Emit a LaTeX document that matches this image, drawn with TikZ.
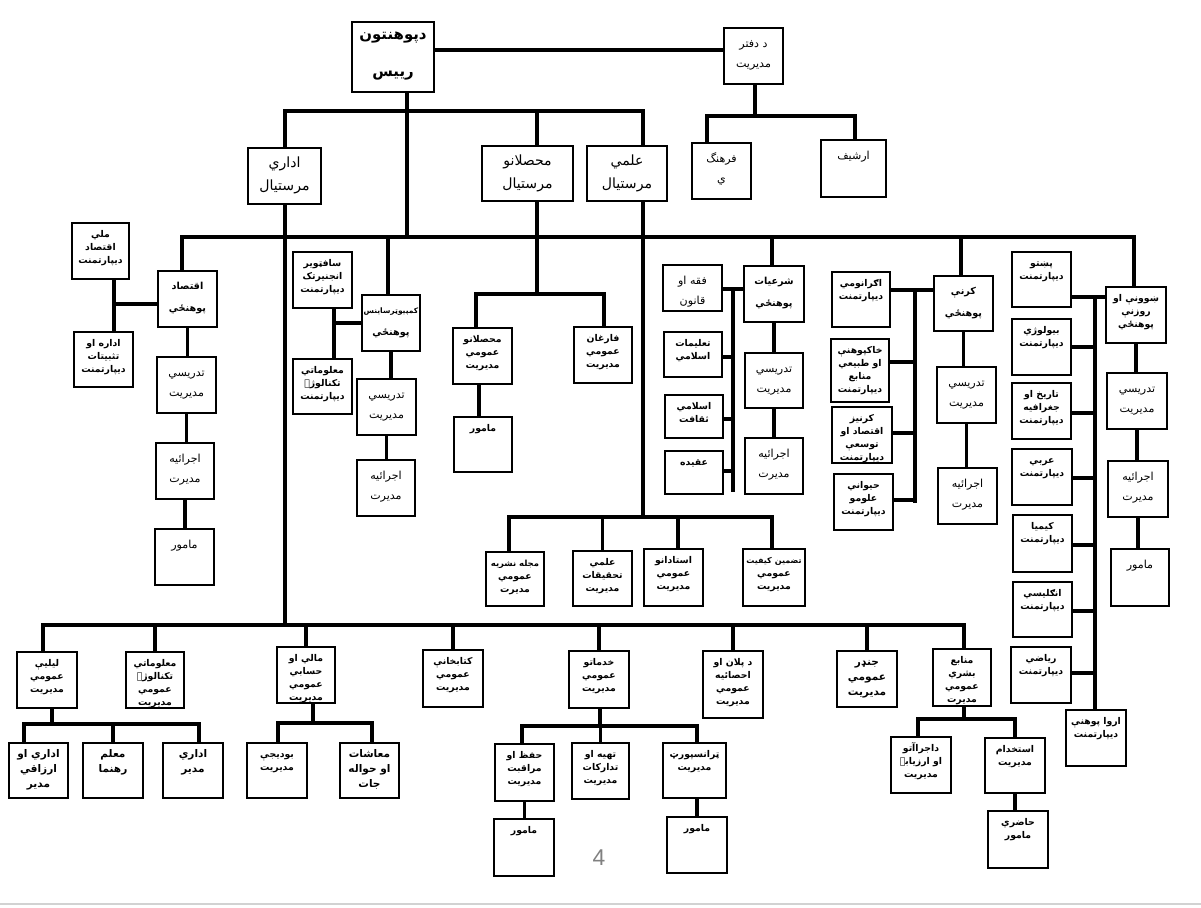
\documentclass[tikz,border=0pt]{standalone}
\usepackage{fontspec}
\TeXXeTstate=1
\newfontfamily\arabicfont[Script=Arabic]{DejaVu Sans}
\newfontfamily\numfont{Liberation Sans}
\newcommand\RL[1]{\strut\beginR #1\endR}
\newcommand\B[7][sbt]{%
  \pgfmathsetmacro\bw{(#5-#3)*0.02}%
  \pgfmathsetmacro\bh{(#6-#4)*0.02}%
  \node[box,minimum width=\bw cm,minimum height=\bh cm] (#2) at ({(#3+#5)/2},{(#4+#6)/2}) {};%
  \node[#1] (#2-t) at (#2.north) {#7};}
\begin{document}
\begin{tikzpicture}[x=0.02cm,y=-0.02cm,
  box/.style={draw,line width=0.7pt,fill=white,inner sep=0pt},
  txt/.style={align=center,inner sep=0pt,anchor=north},
  sbt/.style={txt,yshift=-3.1pt,font=\arabicfont\bfseries\fontsize{5.3}{7.4}\selectfont},
  sbw/.style={txt,yshift=-1.8pt,font=\arabicfont\bfseries\fontsize{5.5}{12.5}\selectfont},
  sbl/.style={txt,yshift=-2.6pt,font=\arabicfont\bfseries\fontsize{6}{8.5}\selectfont},
  srt/.style={txt,yshift=-3.4pt,font=\arabicfont\fontsize{6.3}{11.3}\selectfont},
  smt/.style={txt,yshift=-2.4pt,font=\arabicfont\fontsize{8}{13}\selectfont},
  stb/.style={txt,yshift=4.7pt,font=\arabicfont\bfseries\fontsize{8.5}{21}\selectfont},
  conn/.style={line width=2.2pt}]
\useasboundingbox (0,0) rectangle (1201,908);
\draw[gray!35,line width=1pt] (0,904) -- (1201,904);
% ---------- top ----------
\B[stb]{rector}{352}{22}{434}{92}{\RL{دپوهنتون}\\\RL{رييس}}
\B[srt]{office}{724}{28}{783}{84}{\RL{د دفتر}\\\RL{مديريت}}
\B[srt]{farhangi}{692}{143}{751}{199}{\RL{فرهنگ}\\\RL{ي}}
\B[srt]{archive}{821}{140}{886}{197}{\RL{ارشيف}}
\B[smt]{edari}{248}{148}{321}{204}{\RL{اداري}\\\RL{مرستيال}}
\B[smt]{mohasilan}{482}{146}{573}{201}{\RL{محصلانو}\\\RL{مرستيال}}
\B[smt]{elmi}{587}{146}{667}{201}{\RL{علمي}\\\RL{مرستيال}}
% ---------- economics ----------
\B{melli}{72}{223}{129}{279}{\RL{ملي}\\\RL{اقتصاد}\\\RL{ديپارتمنت}}
\B[sbw]{eqfac}{158}{271}{217}{327}{\RL{اقتصاد}\\\RL{پوهنځي}}
\B{edara}{74}{332}{133}{387}{\RL{اداره او}\\\RL{تثبيتات}\\\RL{ديپارتمنت}}
\B[srt]{eqtad}{157}{357}{216}{413}{\RL{تدريسي}\\\RL{مديريت}}
\B[srt]{eqejr}{156}{443}{214}{499}{\RL{اجرائيه}\\\RL{مديرت}}
\B[srt]{eqmam}{155}{529}{214}{585}{\RL{مامور}}
% ---------- computer science ----------
\B{software}{293}{252}{352}{308}{\RL{سافټوير}\\\RL{انجنيرتک}\\\RL{ديپارتمنت}}
\B[sbw]{compfac}{362}{295}{420}{351}{\RL{\fontsize{4.3}{5}\selectfont کمپيوټرساينس}\\\RL{پوهنځي}}
\B{itdept}{293}{359}{352}{414}{\RL{معلوماتي}\\\RL{تکنالوژۍ}\\\RL{ديپارتمنت}}
\B[srt]{comptad}{357}{379}{416}{435}{\RL{تدريسي}\\\RL{مديريت}}
\B[srt]{compejr}{357}{460}{415}{516}{\RL{اجرائيه}\\\RL{مديرت}}
% ---------- students ----------
\B{mohgen}{453}{328}{512}{384}{\RL{محصلانو}\\\RL{عمومي}\\\RL{مديريت}}
\B{faregh}{574}{327}{632}{383}{\RL{فارغان}\\\RL{عمومي}\\\RL{مديريت}}
\B{mohmam}{454}{417}{512}{472}{\RL{مامور}}
% ---------- academic ----------
\B{majalla}{486}{552}{544}{606}{\RL{\fontsize{4.8}{7.4}\selectfont مجله نشريه}\\\RL{عمومي}\\\RL{مديرت}}
\B{tahqiq}{573}{551}{632}{606}{\RL{علمي}\\\RL{تحقيقات}\\\RL{مديريت}}
\B{ostadan}{644}{549}{703}{606}{\RL{استادانو}\\\RL{عمومي}\\\RL{مديريت}}
\B{tazmin}{743}{549}{805}{606}{\RL{\fontsize{4.6}{7.4}\selectfont تضمين کيفيت}\\\RL{عمومي}\\\RL{مديريت}}
% ---------- sharia ----------
\B[srt]{fiqh}{663}{265}{722}{311}{\RL{فقه او}\\\RL{قانون}}
\B{taalimat}{664}{332}{722}{377}{\RL{تعليمات}\\\RL{اسلامي}}
\B{saqafat}{665}{395}{723}{438}{\RL{اسلامي}\\\RL{ثقافت}}
\B{aqida}{665}{451}{723}{494}{\RL{عقيده}}
\B[sbw]{sharfac}{744}{266}{804}{322}{\RL{شرعيات}\\\RL{پوهنځي}}
\B[srt]{shtad}{745}{353}{803}{408}{\RL{تدريسي}\\\RL{مديريت}}
\B[srt]{shejr}{745}{438}{803}{494}{\RL{اجرائيه}\\\RL{مديرت}}
% ---------- agriculture ----------
\B{agro}{832}{272}{890}{327}{\RL{اګرانومي}\\\RL{ديپارتمنت}}
\B{khak}{831}{339}{889}{402}{\RL{خاکپوهنې}\\\RL{او طبيعي}\\\RL{منابع}\\\RL{ديپارتمنت}}
\B{kareqt}{832}{407}{892}{463}{\RL{کرنيز}\\\RL{اقتصاد او}\\\RL{توسعې}\\\RL{ديپارتمنت}}
\B{haiwani}{834}{474}{893}{530}{\RL{حيواني}\\\RL{علومو}\\\RL{ديپارتمنت}}
\B[sbw]{karfac}{934}{276}{993}{331}{\RL{کرنې}\\\RL{پوهنځي}}
\B[srt]{kartad}{937}{367}{996}{423}{\RL{تدريسي}\\\RL{مديريت}}
\B[srt]{karejr}{938}{468}{997}{524}{\RL{اجرائيه}\\\RL{مديرت}}
% ---------- education ----------
\B{pashto}{1012}{252}{1071}{307}{\RL{پښتو}\\\RL{ديپارتمنت}}
\B{biology}{1012}{319}{1071}{375}{\RL{بيولوژي}\\\RL{ديپارتمنت}}
\B{history}{1012}{383}{1071}{439}{\RL{تاريخ او}\\\RL{جغرافيه}\\\RL{ديپارتمنت}}
\B{arabi}{1012}{449}{1072}{505}{\RL{عربي}\\\RL{ديپارتمنت}}
\B{kimia}{1013}{515}{1072}{572}{\RL{کيميا}\\\RL{ديپارتمنت}}
\B{english}{1013}{582}{1072}{637}{\RL{انګليسي}\\\RL{ديپارتمنت}}
\B{math}{1011}{647}{1071}{703}{\RL{رياضي}\\\RL{ديپارتمنت}}
\B{arwa}{1066}{710}{1126}{766}{\RL{اروا پوهنې}\\\RL{ديپارتمنت}}
\B[sbt]{joyfac}{1106}{287}{1166}{343}{\RL{ښوونې او}\\\RL{روزنې}\\\RL{پوهنځي}}
\B[srt]{joytad}{1107}{373}{1167}{429}{\RL{تدريسي}\\\RL{مديريت}}
\B[srt]{joyejr}{1108}{461}{1168}{517}{\RL{اجرائيه}\\\RL{مديرت}}
\B[srt]{joymam}{1111}{549}{1169}{606}{\RL{مامور}}
% ---------- bottom row ----------
\B{laili}{17}{652}{77}{708}{\RL{ليليې}\\\RL{عمومي}\\\RL{مديريت}}
\B{itgen}{126}{652}{184}{708}{\RL{معلوماتي}\\\RL{تکنالوژۍ}\\\RL{عمومي}\\\RL{مديريت}}
\B{mali}{277}{647}{335}{703}{\RL{مالي او}\\\RL{حسابي}\\\RL{عمومي}\\\RL{مديريت}}
\B{ketab}{423}{650}{483}{707}{\RL{کتابخانې}\\\RL{عمومي}\\\RL{مديريت}}
\B{khedmat}{569}{651}{629}{708}{\RL{خدماتو}\\\RL{عمومي}\\\RL{مديريت}}
\B{plan}{703}{651}{763}{718}{\RL{د پلان او}\\\RL{احصائيه}\\\RL{عمومي}\\\RL{مديريت}}
\B[sbl]{jender}{837}{651}{897}{707}{\RL{جنډر}\\\RL{عمومي}\\\RL{مديريت}}
\B{manabe}{933}{649}{991}{706}{\RL{منابع}\\\RL{بشري}\\\RL{عمومي}\\\RL{مديرت}}
\B[sbl]{arzaqi}{9}{743}{68}{798}{\RL{اداري او}\\\RL{ارزاقي}\\\RL{مدير}}
\B[sbl]{moalem}{83}{743}{143}{798}{\RL{معلم}\\\RL{رهنما}}
\B[sbl]{edmodir}{163}{743}{223}{798}{\RL{اداري}\\\RL{مدير}}
\B{budget}{247}{743}{307}{798}{\RL{بوديجې}\\\RL{مديريت}}
\B[sbl]{maashat}{340}{743}{399}{798}{\RL{معاشات}\\\RL{او حواله}\\\RL{جات}}
\B{hefz}{495}{744}{554}{801}{\RL{حفظ او}\\\RL{مراقبت}\\\RL{مديريت}}
\B{tahiya}{572}{743}{629}{799}{\RL{تهيه او}\\\RL{تدارکات}\\\RL{مديريت}}
\B{transport}{663}{743}{726}{798}{\RL{ټرانسپورټ}\\\RL{مديريت}}
\B{hefzmam}{494}{819}{554}{876}{\RL{مامور}}
\B{transmam}{667}{817}{727}{873}{\RL{مامور}}
\B{ejraat}{891}{737}{951}{793}{\RL{داجراآتو}\\\RL{او ارزيابۍ}\\\RL{مديريت}}
\B{estekhdam}{985}{738}{1045}{793}{\RL{استخدام}\\\RL{مديريت}}
\B{hazeri}{988}{811}{1048}{868}{\RL{حاضري}\\\RL{مامور}}
\node[font=\numfont\fontsize{13}{15}\selectfont,text=gray] (pagenum) at (599,858) {4};
% ---------- coordinates ----------
\coordinate (o0) at (437,50);
\coordinate (o1) at (755,116);
\coordinate (o2) at (707,116);
\coordinate (o3) at (855,116);
\coordinate (r0) at (407,237);
\coordinate (a0) at (285,111);
\coordinate (a1) at (643,111);
\coordinate (a2) at (537,111);
\coordinate (mL) at (182,237);
\coordinate (j0) at (1134,237);
\coordinate (p0) at (388,237);
\coordinate (s0) at (772,237);
\coordinate (c0) at (961,237);
\coordinate (bL) at (43,625);
\coordinate (bR) at (964,625);
\coordinate (q1) at (114,304);
\coordinate (p1) at (334,323);
\coordinate (h0) at (537,294);
\coordinate (h1) at (476,294);
\coordinate (h2) at (604,294);
\coordinate (h3) at (479,400);
\coordinate (e0) at (643,517);
\coordinate (e1) at (509,517);
\coordinate (e2) at (772,517);
\coordinate (e3) at (678,517);
\coordinate (s1) at (733,289);
\coordinate (s2) at (733,492);
\coordinate (s3) at (733,357);
\coordinate (s4) at (733,419);
\coordinate (s5) at (733,471);
\coordinate (c1) at (915,290);
\coordinate (c2) at (915,503);
\coordinate (c3) at (915,362);
\coordinate (c4) at (915,433);
\coordinate (c5) at (915,500);
\coordinate (j1) at (1095,297);
\coordinate (j2) at (1095,347);
\coordinate (j3) at (1095,413);
\coordinate (j4) at (1095,478);
\coordinate (j5) at (1095,545);
\coordinate (j6) at (1095,611);
\coordinate (j7) at (1095,673);
\coordinate (l0) at (52,724);
\coordinate (l1) at (24,724);
\coordinate (l2) at (199,724);
\coordinate (m0) at (313,723);
\coordinate (m1) at (278,723);
\coordinate (m2) at (372,723);
\coordinate (k0) at (600,726);
\coordinate (k1) at (522,726);
\coordinate (k2) at (697,726);
\coordinate (n0) at (964,719);
\coordinate (n1) at (918,719);
\coordinate (n2) at (1015,719);
% ---------- connectors ----------
\begin{scope}[conn]
\draw (rector.east |- o0) -- (office.west |- o0);
\draw (office.south -| o1) -- (o1);
\draw (farhangi.north -| o2) -- (o2) -- (o3) -- (archive.north -| o3);
\draw (rector.south -| r0) -- (r0);
\draw (edari.north -| a0) -- (a0) -- (a1) -- (elmi.north -| a1);
\draw (a2) -- (mohasilan.north -| a2);
\draw (edari.south -| a0) -- (a0 |- bL);
\draw (eqfac.north -| mL) -- (mL) -- (j0) -- (joyfac.north -| j0);
\draw (p0) -- (compfac.north -| p0);
\draw (s0) -- (sharfac.north -| s0);
\draw (c0) -- (karfac.north -| c0);
% economics
\draw (melli.south -| q1) -- (edara.north -| q1);
\draw (q1) -- (eqfac.west |- q1);
\draw (eqfac.south) -- (eqfac.south |- eqtad.north);
\draw (eqtad.south) -- (eqtad.south |- eqejr.north);
\draw (eqejr.south) -- (eqejr.south |- eqmam.north);
% computer
\draw (software.south -| p1) -- (itdept.north -| p1);
\draw (p1) -- (compfac.west |- p1);
\draw (compfac.south) -- (compfac.south |- comptad.north);
\draw (comptad.south) -- (comptad.south |- compejr.north);
% students
\draw (mohasilan.south -| h0) -- (h0);
\draw (mohgen.north -| h1) -- (h1) -- (h2) -- (faregh.north -| h2);
\draw (mohgen.south -| h3) -- (mohmam.north -| h3);
% academic
\draw (elmi.south -| e0) -- (e0);
\draw (majalla.north -| e1) -- (e1) -- (e2) -- (tazmin.north -| e2);
\draw (tahqiq.north |- e0) -- (tahqiq.north);
\draw (e3) -- (ostadan.north -| e3);
% sharia
\draw (fiqh.east |- s1) -- (sharfac.west |- s1);
\draw (s1) -- (s2);
\draw (taalimat.east |- s3) -- (s3);
\draw (saqafat.east |- s4) -- (s4);
\draw (aqida.east |- s5) -- (s5);
\draw (sharfac.south) -- (sharfac.south |- shtad.north);
\draw (shtad.south) -- (shtad.south |- shejr.north);
% agriculture
\draw (agro.east |- c1) -- (karfac.west |- c1);
\draw (c1) -- (c2);
\draw (khak.east |- c3) -- (c3);
\draw (kareqt.east |- c4) -- (c4);
\draw (haiwani.east |- c5) -- (c5);
\draw (karfac.south) -- (karfac.south |- kartad.north);
\draw (kartad.south) -- (kartad.south |- karejr.north);
% education
\draw (pashto.east |- j1) -- (joyfac.west |- j1);
\draw (j1) -- (arwa.north -| j1);
\draw (biology.east |- j2) -- (j2);
\draw (history.east |- j3) -- (j3);
\draw (arabi.east |- j4) -- (j4);
\draw (kimia.east |- j5) -- (j5);
\draw (english.east |- j6) -- (j6);
\draw (math.east |- j7) -- (j7);
\draw (joyfac.south) -- (joyfac.south |- joytad.north);
\draw (joytad.south) -- (joytad.south |- joyejr.north);
\draw (joyejr.south) -- (joyejr.south |- joymam.north);
% bottom
\draw (laili.north -| bL) -- (bL) -- (bR) -- (manabe.north -| bR);
\draw (itgen.north |- bL) -- (itgen.north);
\draw (mali.north |- bL) -- (mali.north);
\draw (ketab.north |- bL) -- (ketab.north);
\draw (khedmat.north |- bL) -- (khedmat.north);
\draw (plan.north |- bL) -- (plan.north);
\draw (jender.north |- bL) -- (jender.north);
\draw (laili.south -| l0) -- (l0);
\draw (arzaqi.north -| l1) -- (l1) -- (l2) -- (edmodir.north -| l2);
\draw (moalem.north |- l0) -- (moalem.north);
\draw (mali.south -| m0) -- (m0);
\draw (budget.north -| m1) -- (m1) -- (m2) -- (maashat.north -| m2);
\draw (khedmat.south -| k0) -- (k0);
\draw (hefz.north -| k1) -- (k1) -- (k2) -- (transport.north -| k2);
\draw (tahiya.north |- k0) -- (tahiya.north);
\draw (hefz.south) -- (hefz.south |- hefzmam.north);
\draw (transmam.north |- transport.south) -- (transmam.north);
\draw (manabe.south -| n0) -- (n0);
\draw (ejraat.north -| n1) -- (n1) -- (n2) -- (estekhdam.north -| n2);
\draw (estekhdam.south -| n2) -- (hazeri.north -| n2);
\end{scope}
\end{tikzpicture}
\end{document}
